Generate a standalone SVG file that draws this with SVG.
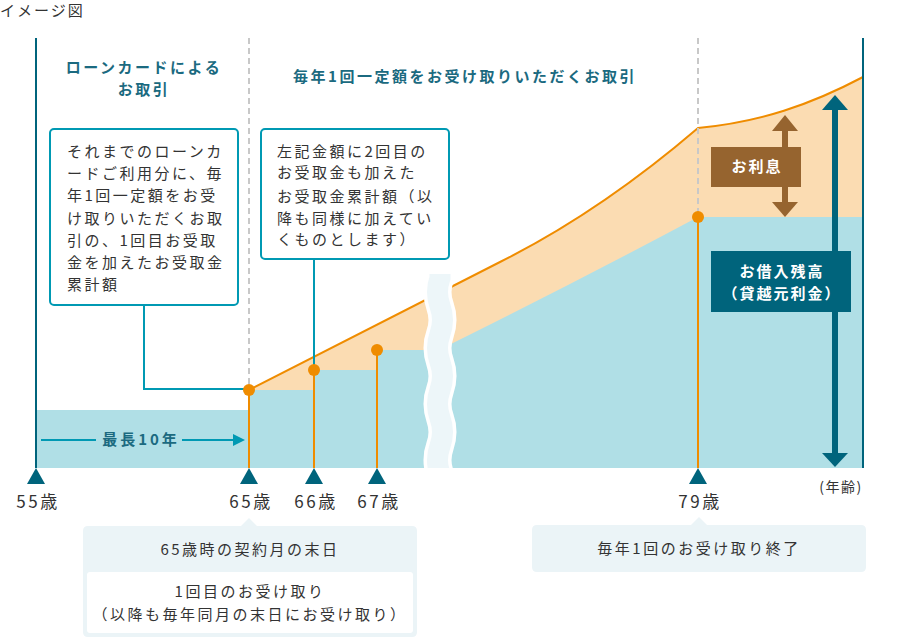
<svg xmlns="http://www.w3.org/2000/svg" width="900" height="638" viewBox="0 0 900 638">
<style>
text{font-family:"Noto Sans CJK JP","Noto Sans",sans-serif;}
.t{font-size:15px;fill:#333;letter-spacing:2.5px;}
.h{font-size:15px;font-weight:bold;fill:#1b6a80;letter-spacing:2.5px;text-anchor:middle;}
.w{font-size:15px;font-weight:bold;fill:#fff;letter-spacing:2px;text-anchor:middle;}
.age{font-size:17px;fill:#333;letter-spacing:2.5px;text-anchor:middle;}
.c{text-anchor:middle;}
.callout{fill:#fff;stroke:#0099b3;stroke-width:2;}
.lead{fill:none;stroke:#0099b3;stroke-width:2;}
.dash{stroke:#c8c8c8;stroke-width:2;stroke-dasharray:6 4;}
.ol{stroke:#ef8c00;stroke-width:2;}
.dot{fill:#ef8c00;}
.tri{fill:#00647c;}
.axis{stroke:#00647c;stroke-width:2;}
</style>
<defs>
<clipPath id="clipBand"><rect x="400" y="260" width="80" height="208"/></clipPath>
</defs>
<text x="0" y="16" class="t" style="letter-spacing:2px">イメージ図</text>

<g id="areas">
<path d="M249,468 L249,390 L500,262 Q600,212 698,128 C760,122 810,105 863,77 L863,468 Z" fill="#fbdcb2"/>
<path d="M36,468 L36,410 L249,410 L249,390 L314,390 L314,370 L377,370 L377,350 L440,350 L453,343 Q580,280 698,217 L863,217 L863,468 Z" fill="#b0dfe6"/>
<path d="M249,390 L500,262 Q600,212 698,128 C760,122 810,105 863,77" fill="none" stroke="#ef8c00" stroke-width="2"/>
</g>

<g id="break" clip-path="url(#clipBand)">
<path d="M440,274 V278 Q435,292 440,306 T440,334 T440,362 T440,390 T440,418 T440,446 T440,474 V480" fill="none" stroke="#fff" stroke-width="28"/>
<path d="M440,274 V278 Q435,292 440,306 T440,334 T440,362 T440,390 T440,418 T440,446 T440,474 V480" fill="none" stroke="#edf6f9" stroke-width="21"/>
</g>

<g id="axes">
<line x1="36" y1="38" x2="36" y2="468" class="axis"/>
<line x1="863" y1="38" x2="863" y2="468" class="axis"/>
<line x1="249" y1="38" x2="249" y2="390" class="dash"/>
<line x1="698" y1="38" x2="698" y2="217" class="dash"/>
</g>

<g id="headings">
<text x="144" y="73" class="h">ローンカードによる</text>
<text x="144" y="95" class="h">お取引</text>
<text x="465" y="82" class="h">毎年1回一定額をお受け取りいただくお取引</text>
</g>

<g id="connectors">
<polyline points="144,305 144,389 249,389" class="lead"/>
<line x1="314" y1="259" x2="314" y2="370" class="lead"/>
<line x1="249" y1="390" x2="249" y2="468" class="ol"/>
<line x1="314" y1="370" x2="314" y2="468" class="ol"/>
<line x1="377" y1="350" x2="377" y2="468" class="ol"/>
<line x1="698" y1="217" x2="698" y2="468" class="ol"/>
<line x1="41" y1="440" x2="96" y2="440" stroke="#0099b3" stroke-width="2"/>
<line x1="182" y1="440" x2="234" y2="440" stroke="#0099b3" stroke-width="2"/>
<polygon points="245,440 233,434 233,446" fill="#0099b3"/>
</g>

<g id="dots">
<circle cx="249" cy="390" r="6" class="dot"/>
<circle cx="314" cy="370" r="6" class="dot"/>
<circle cx="377" cy="350" r="6" class="dot"/>
<circle cx="698" cy="217" r="6" class="dot"/>
</g>

<g id="span10">
<text x="141" y="445" class="h" style="letter-spacing:3px">最長10年</text>
</g>

<g id="callout1">
<rect x="50" y="129" width="188" height="176" rx="4" class="callout"/>
<text class="t">
<tspan x="67" y="157">それまでのローンカ</tspan>
<tspan x="67" y="179">ードご利用分に、毎</tspan>
<tspan x="67" y="201">年1回一定額をお受</tspan>
<tspan x="67" y="224">け取りいただくお取</tspan>
<tspan x="67" y="246">引の、1回目お受取</tspan>
<tspan x="67" y="268">金を加えたお受取金</tspan>
<tspan x="67" y="290">累計額</tspan>
</text>
</g>

<g id="callout2">
<rect x="261" y="129" width="188" height="130" rx="4" class="callout"/>
<text class="t">
<tspan x="277" y="157">左記金額に2回目の</tspan>
<tspan x="277" y="178">お受取金も加えた</tspan>
<tspan x="277" y="202">お受取金累計額（以</tspan>
<tspan x="277" y="224">降も同様に加えてい</tspan>
<tspan x="277" y="245">くものとします）</tspan>
</text>
</g>

<g id="interest">
<line x1="785" y1="128" x2="785" y2="205" stroke="#96642f" stroke-width="6"/>
<polygon points="785,115 772,131 798,131" fill="#96642f"/>
<polygon points="785,217 772,202 798,202" fill="#96642f"/>
<rect x="711" y="147" width="90" height="40" fill="#96642f"/>
<text x="757" y="172" class="w">お利息</text>
</g>

<g id="balance">
<line x1="835" y1="108" x2="835" y2="455" stroke="#00647c" stroke-width="6"/>
<polygon points="835,95 822,110 848,110" fill="#00647c"/>
<polygon points="835,467 822,453 848,453" fill="#00647c"/>
<rect x="711" y="251" width="140" height="61" fill="#00647c"/>
<text x="782" y="277" class="w">お借入残高</text>
<text x="782" y="299" class="w">（貸越元利金）</text>
</g>

<g id="ticks">
<polygon points="36,468 27,484 45,484" class="tri"/>
<polygon points="249,468 240,484 258,484" class="tri"/>
<polygon points="314,468 305,484 323,484" class="tri"/>
<polygon points="377,468 368,484 386,484" class="tri"/>
<polygon points="698,468 689,484 707,484" class="tri"/>
<text x="38" y="508" class="age">55歳</text>
<text x="251" y="508" class="age">65歳</text>
<text x="316" y="508" class="age">66歳</text>
<text x="379" y="508" class="age">67歳</text>
<text x="700" y="508" class="age">79歳</text>
<text x="841" y="492" class="age" style="font-size:14px;letter-spacing:1.5px">(年齢)</text>
</g>

<g id="note65">
<path d="M87,526 H241 L249,518 L257,526 H412 Q417,526 417,531 V632 Q417,637 412,637 H88 Q83,637 83,632 V531 Q83,526 88,526 Z" fill="#ebf4f7"/>
<rect x="87" y="572" width="326" height="61" rx="3" fill="#fff"/>
<text x="250" y="555" class="t c">65歳時の契約月の末日</text>
<text x="250" y="597" class="t c">1回目のお受け取り</text>
<text x="250" y="620" class="t c">（以降も毎年同月の末日にお受け取り）</text>
</g>

<g id="note79">
<path d="M537,525 H691 L699,517 L707,525 H861 Q866,525 866,530 V567 Q866,572 861,572 H537 Q532,572 532,567 V530 Q532,525 537,525 Z" fill="#ebf4f7"/>
<text x="699" y="554" class="t c">毎年1回のお受け取り終了</text>
</g>
</svg>
